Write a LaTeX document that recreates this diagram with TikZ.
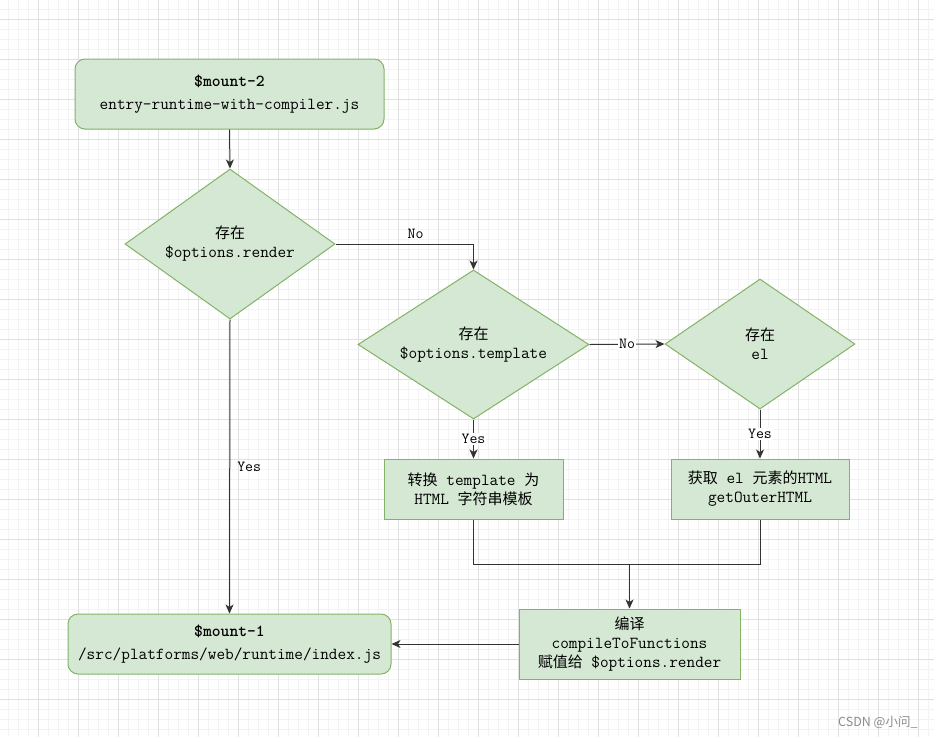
\documentclass[tikz,border=0pt]{standalone}
\usepackage{fontspec}
\newfontfamily\cjk{Noto Sans CJK SC}
\newfontfamily\wmfont{Noto Sans CJK SC}
\usetikzlibrary{shapes.geometric,arrows.meta}
\definecolor{gfill}{HTML}{D5E8D4}
\definecolor{gdraw}{HTML}{82B366}
\definecolor{edgec}{HTML}{333333}
\definecolor{gmajor}{HTML}{E0E0E0}
\definecolor{gminor}{HTML}{F3F3F3}
\newcommand{\zh}[1]{{\cjk\fontsize{15}{19}\selectfont #1}}
\begin{document}
\begin{tikzpicture}[x=1pt,y=-1pt,
  box/.style={draw=gdraw, fill=gfill, line width=1pt, inner sep=0pt, align=center,
    text=black, font=\ttfamily\fontsize{16.8}{19}\selectfont},
  rbox/.style={box, rounded corners=10pt},
  dia/.style={box, diamond},
  conn/.style={draw=edgec, line width=1pt},
  arr/.style={conn, -{Stealth[length=9pt,width=8pt,inset=2.5pt]}},
  lbl/.style={font=\ttfamily\fontsize{15.4}{16}\selectfont, text=black, inner sep=1pt},
  minorline/.style={draw=gminor, line width=1pt},
  majorline/.style={draw=gmajor, line width=1pt},
]
\useasboundingbox (0,0) rectangle (934,737);
\fill[white] (0,0) rectangle (934,737);
% grid
\foreach \x in {8,18,...,928} \draw[minorline] (\x,0) -- (\x,737);
\foreach \y in {9,19,...,729} \draw[minorline] (0,\y) -- (934,\y);
\foreach \x in {38,78,...,918} \draw[majorline] (\x,0) -- (\x,737);
\foreach \y in {19,59,...,699} \draw[majorline] (0,\y) -- (934,\y);

% nodes
\node[rbox, minimum width=309pt, minimum height=70pt] (top) at (229.5,94)
  {\textbf{\$mount-2}\\[4pt]entry-runtime-with-compiler.js};
\node[dia, aspect=1.4, minimum width=210pt, minimum height=150pt] (d1) at (230,244)
  {\zh{存在}\\\$options.render};
\node[dia, aspect=1.55, minimum width=231pt, minimum height=149pt] (d2) at (473.5,344.5)
  {\zh{存在}\\\$options.template};
\node[dia, aspect=1.46, minimum width=190pt, minimum height=130pt] (d3) at (760,344)
  {\zh{存在}\\el};
\node[box, minimum width=179pt, minimum height=60pt] (A) at (473.5,489)
  {\zh{转换} template \zh{为}\\HTML \zh{字符串模板}};
\node[box, minimum width=178pt, minimum height=60pt] (B) at (760,489)
  {\zh{获取} el \zh{元素的}HTML\\getOuterHTML};
\node[box, minimum width=221pt, minimum height=70pt] (C) at (629.5,644)
  {\zh{编译}\\compileToFunctions\\\zh{赋值给} \$options.render};
\node[rbox, minimum width=323pt, minimum height=60pt] (m1) at (229.5,644)
  {\textbf{\$mount-1}\\[4pt]/src/platforms/web/runtime/index.js};
\coordinate (j) at (629.5,564);

% connectors
\draw[arr] (top.south) -- (d1.north);
\draw[arr] (d1.east) -| node[lbl, pos=0.29, above=4pt]{No} (d2.north);
\draw[arr] (d2.east) -- node[lbl, fill=white]{No} (d3.west);
\draw[arr] (d2.south) -- node[lbl, fill=white]{Yes} (A.north);
\draw[arr] (d3.south) -- node[lbl, fill=white]{Yes} (B.north);
\draw[arr] (d1.south) -- node[lbl, right=6pt]{Yes} (m1.north);
\draw[conn] (A.south) |- (j) -| (B.south);
\draw[arr] (j) -- (C.north);
\draw[arr] (C.west) -- (m1.east);

% watermark
\node[font=\wmfont\fontsize{12.5}{14}\selectfont, text=black!45, anchor=west, inner sep=0pt] (wm)
  at (838,722) {CSDN @小问\_};
\end{tikzpicture}
\end{document}
